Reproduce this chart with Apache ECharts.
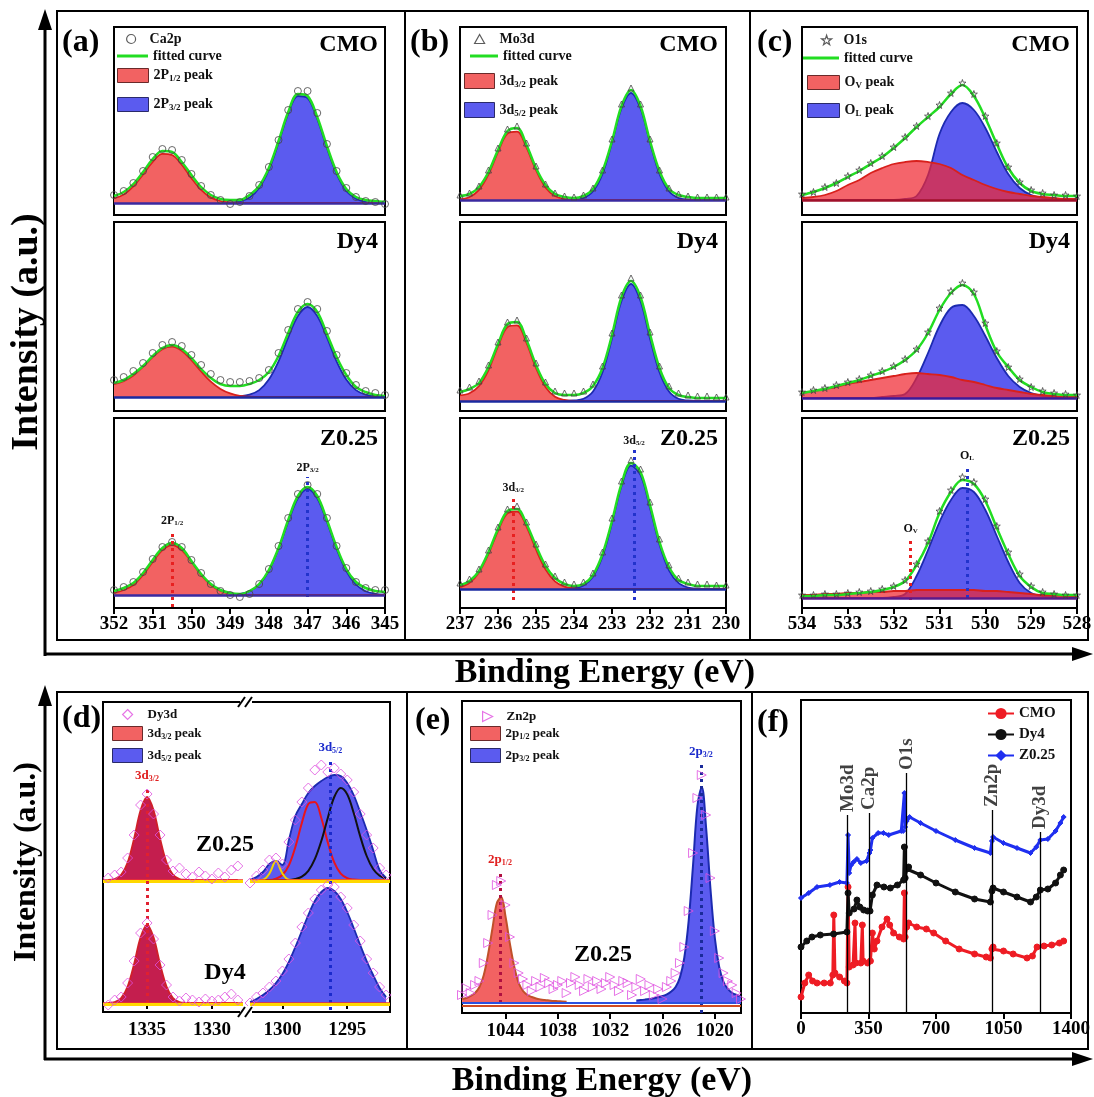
<!DOCTYPE html>
<html><head><meta charset="utf-8">
<script src="https://cdn.jsdelivr.net/npm/echarts@6/dist/echarts.min.js"></script>
<style>html,body{margin:0;padding:0;background:#fff}#c{width:1094px;height:1097px}</style>
</head><body><div id="c"></div>
<script>
const FONT='"Liberation Serif","Times New Roman","DejaVu Serif",serif';

// ---------- (a) Ca2p ----------
const aE=[352,351.75,351.5,351.25,351,350.75,350.5,350.25,350,349.75,349.5,349.25,349,348.75,348.5,348.25,348,347.75,347.5,347.25,347,346.75,346.5,346.25,346,345.75,345.5,345.25,345];
const a1Red=[4.5,8.5,16.6,28.5,41.2,49.2,48,38.3,24.9,13.1,5.6,2,0.5,0,0,0,0,0,0,0,0,0,0,0,0,0,0,0,0];
const a1Blue=[0,0,0,0,0,0,0,0,0,0,0,0,0.5,1.6,5.5,15,33,60,89,107,105,84,55,29,12,4.4,1.2,0.3,0];
const a1Fit=[7,11,19,31,44,52,51,41,28,16,8,4,3,3,8,17,35,62,91,109,107,86,57,31,14,6,3,2,1];
const a1Obs=[8,12,20,32,46,54,53,43,29,17,8,3,-1,1,7,18,36,63,93,112,112,90,59,32,15,6,2,1,-1];
const a2Red=[12.8,15.8,21.5,30.2,39.9,47.9,50.4,46.3,36.8,25.6,15.3,8.1,3.6,1,0.3,0,0,0,0,0,0,0,0,0,0,0,0,0,0];
const a2Blue=[0,0,0,0,0,0,0,0,0,0,0,0,0,0.6,2.3,6.9,17.5,35.7,59.7,81,90,81,59.7,35.7,17.5,6.9,2.3,0.6,0];
const a2Fit=[14,17,23,31,41,49,52,48,39,28,19,13,11,11,13,17,25,41,64,85,93,85,63,40,22,10,5,2,1];
const a2Obs=[17,20,26,34,44,52,55,51,42,32,23,17,15,15,16,19,27,44,67,88,95,88,66,42,24,12,6,4,2];
const a3Red=[2,5,10,20,33,45,50,45,33,20,10,4,1.3,0.3,0,0,0,0,0,0,0,0,0,0,0,0,0,0,0];
const a3Blue=[0,0,0,0,0,0,0,0,0,0,0,0,0,1.2,3.8,10.5,24,46,73,96.7,106,96.7,73,46,24,10.5,3.8,1.2,0.3];
const a3Fit=[4,7,12,22,35,47,52,47,34,21,11,5,2,1,4,11,25,47,75,99,108,99,75,48,26,13,7,4,3];
const a3Obs=[5,8,13,23,36,48,53,48,35,22,11,4,0,-2,1,11,26,49,77,101,110,101,77,49,27,13,7,5,5];

// ---------- (b) Mo3d ----------
const bE=[237,236.75,236.5,236.25,236,235.75,235.5,235.25,235,234.75,234.5,234.25,234,233.75,233.5,233.25,233,232.75,232.5,232.25,232,231.75,231.5,231.25,231,230.75,230.5,230.25,230];
const b1Red=[0.7,3,10.2,25.6,47.9,66.4,68.3,52.3,29.8,12.5,3.9,0.9,0.1,0,0,0,0,0,0,0,0,0,0,0,0,0,0,0,0];
const b1Blue=[0,0,0,0,0,0,0,0,0,0,0,0,0.4,2,8.7,26.2,57.2,91.5,107,91.5,57.2,26.2,8.7,2,0.4,0,0,0,0];
const b1Fit=[4,6,13,28,50,69,72,55,32,15,6,3,2,4,11,29,59,94,110,94,59,29,11,5,3,2,2,2,2];
const b1Obs=[5,7,14,30,52,71,74,57,34,16,7,4,3,5,12,30,61,96,112,96,61,30,12,6,4,3,3,3,3];
const b2Red=[5.7,7.8,15,31,54.5,74,75.7,58,33,14,4.3,1,0,0,0,0,0,0,0,0,0,0,0,0,0,0,0,0,0];
const b2Blue=[0,0,0,0,0,0,0,0,0,0,0,0,0.5,2.2,9.5,28.7,62.6,100,117,100,62.6,28.7,9.5,2.2,0.5,0,0,0,0];
const b2Fit=[9,12,18,34,57,77,79,61,36,17,8,6,6,8,15,33,66,104,120,104,67,33,13,6,4,3,3,3,3];
const b2Obs=[11,14,20,36,59,79,81,63,38,19,10,8,8,10,17,35,68,106,123,106,69,35,15,8,6,5,5,4,4];
const b3Red=[1.8,6.2,16.6,35,58,75.7,77.5,62.4,39.5,19.7,7.7,2.4,0.6,0,0,0,0,0,0,0,0,0,0,0,0,0,0,0,0];
const b3Blue=[0,0,0,0,0,0,0,0,0,0,0,0,0.8,3.6,12.3,32.5,65.7,102.7,123.4,114,81.1,44.4,18.7,6.1,1.5,0.3,0,0,0];
const b3Fit=[4,8,18,37,60,78,80,65,43,23,11,5,3,5,14,35,68,105,126,117,84,47,22,9,5,3,3,3,3];
const b3Obs=[6,10,20,39,62,80,83,67,45,25,13,7,5,7,16,37,71,108,129,120,87,50,24,11,7,5,5,4,4];

// ---------- (c) O1s ----------
const cE=[534,533.75,533.5,533.25,533,532.75,532.5,532.25,532,531.75,531.5,531.25,531,530.75,530.5,530.25,530,529.75,529.5,529.25,529,528.75,528.5,528.25,528];
const c1Red=[2,3,5,9,15,20,27,32,36,38,39,38,36,32,25,20,15,11,8,6,4,3,2,1,1];
const c1Blue=[0,0,0,0,0,0,0,0,0,1,4,25,66,88,97,90,72,48,26,12,5,2,1,0,0];
const c1Fit=[5,8,12,17,23,29,36,43,52,62,73,83,93,106,115,104,82,56,32,17,9,6,5,4,4];
const c1Obs=[6,8,13,17,24,30,37,44,53,63,74,84,95,107,117,106,84,57,33,18,10,7,5,5,4];
const c2Red=[5,7,9,11,14,16,18,20,22,24,25,24,23,21,18,16,13,10,8,6,4,3,2,1,1];
const c2Blue=[0,0,0,0,0,0,0,1,2,4,20,45,72,90,93,82,62,40,22,11,5,2,1,0,0];
const c2Fit=[5,7,9,12,15,18,22,26,31,38,48,65,88,105,113,104,73,46,31,18,11,6,4,3,3];
const c2Obs=[6,8,10,13,16,19,23,27,32,39,49,66,90,107,115,106,75,47,31,19,11,7,5,4,3];
const c3Red=[3,3,4,4,5,5,6,6,7,7,8,8,8,8,8,8,7,7,6,5,4,3,3,2,2];
const c3Blue=[0,0,0,0,0,0,0,0,1,4,22,48,76,98,110,106,88,62,36,15,5,2,1,0,0];
const c3Fit=[2,2,3,3,4,5,6,8,11,17,33,55,85,106,118,114,97,70,44,22,11,5,4,3,3];
const c3Obs=[3,3,4,4,5,6,7,9,12,18,34,57,87,108,121,116,99,72,46,24,12,6,4,3,3];

// ---------- (d) Dy3d (broken axis) ----------
const dLE=[1338,1337.5,1337,1336.5,1336,1335.5,1335,1334.5,1334,1333.5,1333,1332.5,1332,1331.5,1331,1330.5,1330,1329.5,1329,1328.5,1328];
const dZL=[0.2,1,5.2,17.4,41.5,69.8,83,69.8,41.5,17.4,5.2,1,0.2,0,0,0,0,0,0,0,0];
const dDL=[0.2,1,4.9,16.4,39,65.6,78,65.6,39,16.4,4.9,1,0.2,0,0,0,0,0,0,0,0];
const dZLo=[2,5,8,22,45,75,86,66,45,20,9,12,6,3,8,4,1,7,3,10,14];
const dDLo=[-2,3,6,20,42,70,80,64,38,18,6,2,5,3,1,4,2,3,6,9,3];
const dRE=[1302.5,1302,1301.5,1301,1300.5,1300,1299.5,1299,1298.5,1298,1297.5,1297,1296.5,1296,1295.5,1295,1294.5,1294,1293.5,1293,1292.5,1292];
const dZR=[0,3,8,16,19,15,40,64,76,87,94,99,103,105,104,97,85,68,50,30,10,2];
const dZRred=[0,0,0,0,1.3,5,14.6,33,57,76,78,62,37.6,17.6,6.3,1.8,0.4,0,0,0,0,0];
const dZRblk=[0,0,0,0,0,0,0,1.1,3.4,9.2,20.8,39,62,83,92,85.6,67,43.8,24,11,4.2,1.4];
const dZRyel=[0,0,0.3,6.5,19,6.5,0.3,0,0,0,0,0,0,0,0,0,0,0,0,0,0,0];
const dDR=[1,4,8,13,20,29,41,56,72,88,102,111,115,112,104,91,75,58,42,28,15,6];
const dZRo=[-3,4,10,20,22,16,38,60,78,92,110,115,108,112,106,100,88,66,45,32,12,5];
const dDRo=[0,6,10,16,22,32,44,60,76,90,104,113,118,116,106,95,78,62,44,30,16,8];

// ---------- (e) Zn2p ----------
const eRE=[1049,1048.5,1048,1047.5,1047,1046.5,1046,1045.5,1045,1044.5,1044,1043.5,1043,1042.5,1042,1041.5,1041,1040.5,1040,1039.5,1039,1038.5,1038,1037.5,1037];
const eRed=[4,5,7,10,16,28,49,75,100,106,86,59,36,20,12,8,6,4.5,3.6,3,2.5,2,1.8,1.5,1.3];
const eBE=[1029,1028.5,1028,1027.5,1027,1026.5,1026,1025.5,1025,1024.5,1024,1023.5,1023,1022.5,1022,1021.5,1021,1020.5,1020,1019.5,1019,1018.5,1018,1017.5,1017];
const eBlue=[2.6,2.9,3.4,4,4.7,5.7,7,8.7,11.4,16,25.6,45.5,82.5,138,197,216,175,114,65,36,21,14,10,8,6.4];
const eTE=[1049,1048.5,1048,1047.5,1047,1046.5,1046,1045.5,1045,1044.5,1044,1043.5,1043,1042.5,1042,1041.5,1041,1040.5,1040,1039.5,1039,1038.5,1038,1037.5,1037,1036.5,1036,1035.5,1035,1034.5,1034,1033.5,1033,1032.5,1032,1031.5,1031,1030.5,1030,1029.5,1029,1028.5,1028,1027.5,1027,1026.5,1026,1025.5,1025,1024.5,1024,1023.5,1023,1022.5,1022,1021.5,1021,1020.5,1020,1019.5,1019,1018.5,1018,1017.5,1017];
const eObs=[8,15,10,18,22,40,60,88,118,122,98,66,40,30,24,18,12,22,16,25,20,14,18,22,10,20,26,18,12,24,16,22,14,20,26,18,12,22,20,8,16,24,12,18,8,14,4,16,22,30,40,56,92,150,205,228,188,125,72,45,30,22,18,10,4];

// ---------- (f) survey ----------
const fCmoE=[0,20,40,60,83,120,152,165,170,176,200,225,238,244,250,270,280,285,310,318,322,345,360,370,380,394,420,446,460,480,510,532,536,540,548,558,600,650,688,750,820,900,960,982,990,996,1050,1100,1172,1200,1224,1260,1300,1340,1362];
const fCmo=[16,30,38,32,30,30,30,38,98,40,36,32,30,126,46,48,90,50,50,88,52,50,52,80,64,72,86,94,88,80,76,74,120,76,86,90,86,84,80,72,64,59,56,55,64,66,62,59,55,57,66,67,68,70,72];
const fDyE=[0,30,57,100,169,238,244,250,275,290,305,325,345,358,370,394,430,463,500,532,536,540,548,558,620,700,800,900,982,990,996,1050,1120,1190,1220,1241,1280,1320,1345,1362];
const fDy=[66,72,76,78,79,81,120,100,104,113,106,103,102,102,118,128,126,125,128,133,166,135,144,146,138,130,121,114,111,122,125,121,116,111,116,123,124,130,138,143];
const fZE=[0,40,83,150,200,238,244,250,260,273,290,310,340,355,360,370,400,428,455,520,530,536,540,548,563,620,700,800,900,982,990,996,1050,1120,1190,1220,1241,1280,1320,1345,1362];
const fZ=[115,120,126,128,131,130,178,140,148,151,154,150,152,160,163,175,180,180,178,182,182,220,186,192,196,190,182,173,165,160,172,176,170,165,160,166,173,174,182,190,196];
const fMarkE=[242,354,548,992,1239];
const fMarkTop=[198,200,240,203,181];
const fMarkName=['Mo3d','Ca2p','O1s','Zn2p','Dy3d'];

// ---------- tick labels ----------
const dTicksL=[1335,1330], dTicksR=[1300,1295];
const eTicks=[1044,1038,1032,1026,1020];

// ================= building =================
const pairs=(xs,ys)=>xs.map((x,i)=>[x,ys[i]]);
function richFor(color,size){return{
  t:{fontFamily:FONT,fontWeight:'bold',fontSize:size,color:color},
  g:{fontSize:size,width:10},
  s:{fontFamily:FONT,fontWeight:'bold',fontSize:Math.round(size*0.62),color:color,padding:[Math.round(size*0.5),0,0,0]}};}
const FMT={
  '2P1/2 peak':'{t|2P}{s|1/2}{t| peak}','2P3/2 peak':'{t|2P}{s|3/2}{t| peak}',
  '3d3/2 peak':'{t|3d}{s|3/2}{t| peak}','3d5/2 peak':'{t|3d}{s|5/2}{t| peak}',
  'OV peak':'{t|O}{s|V}{t| peak}','OL peak':'{t|O}{s|L}{t| peak}',
  '2p1/2 peak':'{t|2p}{s|1/2}{t| peak}','2p3/2 peak':'{t|2p}{s|3/2}{t| peak}'
};
const numFmt=v=>String(v);
const grids=[],xAxes=[],yAxes=[],series=[],legends=[],graphics=[];
function addGrid(g,x,y){
  grids.push(Object.assign({outerBoundsMode:'none',containLabel:false,show:true,borderColor:'#000',borderWidth:2,backgroundColor:'rgba(0,0,0,0)'},g));
  const gi=grids.length-1;
  xAxes.push(Object.assign({gridIndex:gi,type:'value',inverse:true,splitLine:{show:false},
    axisLine:{show:true,onZero:false,lineStyle:{color:'#000',width:2}},
    axisTick:{show:true,inside:false,length:6,lineStyle:{color:'#000',width:2}},
    axisLabel:{fontFamily:FONT,fontWeight:'bold',fontSize:19,color:'#000',margin:7,formatter:numFmt}},x));
  yAxes.push(Object.assign({gridIndex:gi,type:'value',show:false,splitLine:{show:false}},y));
  return gi;
}
function annot(x,y0,y1,color,label,labelColor,size){
  return{silent:true,symbol:['none','none'],animation:false,
    lineStyle:{color:color,type:[3,4],width:3},
    label:{show:true,position:'end',distance:3,formatter:label,rich:richFor(labelColor,size)},
    data:[[{coord:[x,y0]},{coord:[x,y1]}]]};
}
function baseLine(items){
  return{silent:true,symbol:['none','none'],animation:false,label:{show:false},
    lineStyle:{type:'solid',color:items[0].c,width:items[0].w},
    data:items.map(o=>({yAxis:o.v,lineStyle:{type:'solid',color:o.c,width:o.w}}))};
}
const RED_FILL='#f26262',RED_LINE='#d8201c',BLUE_FILL='#5b5bef',BLUE_LINE='#1c2ab0',GREEN='#22dd22';
const STAR='path://M5,0 L6.2,3.6 L10,3.6 L7,5.9 L8.1,9.5 L5,7.3 L1.9,9.5 L3,5.9 L0,3.6 L3.8,3.6 Z';
const RTRI='path://M0,0 L10,5 L0,10 Z';

function xps(p){
  const gi=addGrid({left:p.left,top:p.top,width:p.width,height:p.height},
    {show:p.showX,min:p.min,max:p.max,interval:1},{min:p.ymin,max:p.ymax});
  const blue={type:'line',name:p.blueName,xAxisIndex:gi,yAxisIndex:gi,data:pairs(p.E,p.blue),smooth:0.35,symbol:'none',
    lineStyle:{color:BLUE_LINE,width:1.8},itemStyle:{color:BLUE_FILL},areaStyle:{color:p.blueFill||BLUE_FILL,opacity:1},z:2,emphasis:{disabled:true}};
  const red={type:'line',name:p.redName,xAxisIndex:gi,yAxisIndex:gi,data:pairs(p.E,p.red),smooth:0.35,symbol:'none',
    lineStyle:{color:RED_LINE,width:1.8},itemStyle:{color:RED_FILL},areaStyle:{color:p.redFill||RED_FILL,opacity:1},z:3,emphasis:{disabled:true}};
  if(p.blueMark) blue.markLine=p.blueMark;
  if(p.redMark) red.markLine=p.redMark;
  series.push(blue,red);
  series.push({type:'line',name:'fitted curve',xAxisIndex:gi,yAxisIndex:gi,data:pairs(p.E,p.fit),smooth:0.35,symbol:'none',
    lineStyle:{color:GREEN,width:2.5},itemStyle:{color:GREEN},z:4,emphasis:{disabled:true},
    markLine:baseLine([{v:0,c:p.baseColor,w:2.5}])});
  series.push({type:'scatter',name:p.obsName,xAxisIndex:gi,yAxisIndex:gi,data:pairs(p.E,p.obs),symbol:p.sym,symbolSize:p.symSize,
    itemStyle:{color:'rgba(255,255,255,0)',borderColor:'#444',borderWidth:1},z:5,emphasis:{disabled:true}});
}
const rowTop=[27,222,418],rowH=[188,189,190];
const colA={left:114,width:271,min:345,max:352};
const colB={left:460,width:266,min:230,max:237};
const colC={left:802,width:275,min:528,max:534};
const lab11=(a,b)=>'{t|'+a+'}{s|'+b+'}';

// (a)
xps(Object.assign({},colA,{top:rowTop[0],height:rowH[0],showX:false,ymin:-12,ymax:176,E:aE,red:a1Red,blue:a1Blue,fit:a1Fit,obs:a1Obs,obsName:'Ca2p',sym:'circle',symSize:7,redName:'2P1/2 peak',blueName:'2P3/2 peak',baseColor:'#3a2aa0'}));
xps(Object.assign({},colA,{top:rowTop[1],height:rowH[1],showX:false,ymin:-14,ymax:175,E:aE,red:a2Red,blue:a2Blue,fit:a2Fit,obs:a2Obs,obsName:'Ca2p',sym:'circle',symSize:7,redName:'2P1/2 peak',blueName:'2P3/2 peak',baseColor:'#1a2aa0'}));
xps(Object.assign({},colA,{top:rowTop[2],height:rowH[2],showX:true,ymin:-13,ymax:177,E:aE,red:a3Red,blue:a3Blue,fit:a3Fit,obs:a3Obs,obsName:'Ca2p',sym:'circle',symSize:7,redName:'2P1/2 peak',blueName:'2P3/2 peak',baseColor:'#3a2aa0',
  redMark:annot(350.5,-12,65,'#e82020',lab11('2P','1/2'),'#111',12),blueMark:annot(347,-2,118,'#2233cc',lab11('2P','3/2'),'#111',12)}));
// (b)
xps(Object.assign({},colB,{top:rowTop[0],height:rowH[0],showX:false,ymin:-15,ymax:173,E:bE,red:b1Red,blue:b1Blue,fit:b1Fit,obs:b1Obs,obsName:'Mo3d',sym:'triangle',symSize:6,redName:'3d3/2 peak',blueName:'3d5/2 peak',baseColor:'#3a2aa0'}));
xps(Object.assign({},colB,{top:rowTop[1],height:rowH[1],showX:false,ymin:-10,ymax:179,E:bE,red:b2Red,blue:b2Blue,fit:b2Fit,obs:b2Obs,obsName:'Mo3d',sym:'triangle',symSize:6,redName:'3d3/2 peak',blueName:'3d5/2 peak',baseColor:'#1a2aa0'}));
xps(Object.assign({},colB,{top:rowTop[2],height:rowH[2],showX:true,ymin:-19,ymax:171,E:bE,red:b3Red,blue:b3Blue,fit:b3Fit,obs:b3Obs,obsName:'Mo3d',sym:'triangle',symSize:6,redName:'3d3/2 peak',blueName:'3d5/2 peak',baseColor:'#1a2aa0',
  redMark:annot(235.6,-11,92,'#e82020',lab11('3d','3/2'),'#111',12),blueMark:annot(232.42,-11,139,'#2233cc',lab11('3d','5/2'),'#111',12)}));
// (c)
const C_RED='rgba(240,40,50,0.72)';
xps(Object.assign({},colC,{top:rowTop[0],height:rowH[0],showX:false,ymin:-15,ymax:173,E:cE,red:c1Red,blue:c1Blue,fit:c1Fit,obs:c1Obs,obsName:'O1s',sym:STAR,symSize:7,redName:'OV peak',blueName:'OL peak',redFill:C_RED,baseColor:'#a0102a'}));
xps(Object.assign({},colC,{top:rowTop[1],height:rowH[1],showX:false,ymin:-13,ymax:176,E:cE,red:c2Red,blue:c2Blue,fit:c2Fit,obs:c2Obs,obsName:'O1s',sym:STAR,symSize:7,redName:'OV peak',blueName:'OL peak',redFill:C_RED,baseColor:'#3a1a9a'}));
xps(Object.assign({},colC,{top:rowTop[2],height:rowH[2],showX:true,ymin:-10,ymax:180,E:cE,red:c3Red,blue:c3Blue,fit:c3Fit,obs:c3Obs,obsName:'O1s',sym:STAR,symSize:7,redName:'OV peak',blueName:'OL peak',redFill:C_RED,baseColor:'#5a1a8a',
  redMark:annot(531.63,-2,60,'#e82020',lab11('O','V'),'#111',12),blueMark:annot(530.4,0,133,'#2233cc',lab11('O','L'),'#111',12)}));

// (d) four overlapping grids
const dLabel={fontFamily:FONT,fontWeight:'bold',fontSize:19,color:'#000',margin:9,formatter:numFmt};
function dGrid(left,min,max,ticks,showX,ymin,ymax){
  return addGrid({left:left,top:702,width:140,height:310,show:false},
    {show:showX,min:min,max:max,axisLine:{show:false},
      axisTick:{show:true,inside:false,length:6,lineStyle:{color:'#000',width:2},customValues:ticks},
      axisLabel:Object.assign({},dLabel,{customValues:ticks})},{min:ymin,max:ymax});
}
const gZL=dGrid(103,1327.6,1338.4,dTicksL,false,-132,178);
const gZR=dGrid(250,1291.7,1302.5,dTicksR,false,-132,178);
const gDL=dGrid(103,1327.6,1338.4,dTicksL,true,-9,301);
const gDR=dGrid(250,1291.7,1302.5,dTicksR,true,-9,301);
const CRIMSON='#c41e4e';
const YEL=[{v:0,c:'#f03030',w:1.5},{v:-1.5,c:'#ffd800',w:3}];
function dArea(gi,E,v,name,fill,line,mk){
  const s={type:'line',name:name,xAxisIndex:gi,yAxisIndex:gi,data:pairs(E,v),smooth:0.35,symbol:'none',
    lineStyle:{color:line,width:1.8},itemStyle:{color:fill},areaStyle:{color:fill,opacity:1},z:2,emphasis:{disabled:true}};
  if(mk) s.markLine=mk; series.push(s);
}
function dLine(gi,E,v,color){
  series.push({type:'line',name:'_sub',xAxisIndex:gi,yAxisIndex:gi,data:pairs(E,v),smooth:0.35,symbol:'none',
    lineStyle:{color:color,width:2},itemStyle:{color:color},z:4,emphasis:{disabled:true}});
}
function dDots(gi,E,v){
  series.push({type:'scatter',name:'Dy3d',xAxisIndex:gi,yAxisIndex:gi,data:pairs(E,v),symbol:'diamond',symbolSize:10,
    itemStyle:{color:'rgba(255,255,255,0)',borderColor:'#e050e0',borderWidth:1},z:5,emphasis:{disabled:true},
    markLine:baseLine(YEL)});
}
dArea(gZL,dLE,dZL,'3d3/2 peak',CRIMSON,'#d0202a');
dDots(gZL,dLE,dZLo);
dArea(gZR,dRE,dZR,'3d5/2 peak',BLUE_FILL,BLUE_LINE);
dLine(gZR,dRE,dZRred,'#e8141c');
dLine(gZR,dRE,dZRblk,'#111111');
dLine(gZR,dRE,dZRyel,'#f2d400');
dDots(gZR,dRE,dZRo);
dArea(gDL,dLE,dDL,'3d3/2 peak',CRIMSON,'#d0202a',annot(1335,0,217,'#e02030',lab11('3d','3/2'),'#e02020',13));
dDots(gDL,dLE,dDLo);
dArea(gDR,dRE,dDR,'3d5/2 peak',BLUE_FILL,BLUE_LINE,annot(1296.3,-7,245,'#1a2acc',lab11('3d','5/2'),'#1a2acc',13));
dDots(gDR,dRE,dDRo);

// (e)
const gE=addGrid({left:462,top:701,width:279,height:312},
  {min:1017,max:1049,axisTick:{show:true,inside:false,length:6,lineStyle:{color:'#000',width:2},customValues:eTicks},
   axisLabel:Object.assign({},dLabel,{customValues:eTicks})},{min:-10,max:302});
series.push({type:'line',name:'2p3/2 peak',xAxisIndex:gE,yAxisIndex:gE,data:pairs(eBE,eBlue),smooth:0.35,symbol:'none',
  lineStyle:{color:BLUE_LINE,width:2},itemStyle:{color:BLUE_FILL},areaStyle:{color:BLUE_FILL,opacity:1},z:2,emphasis:{disabled:true},
  markLine:annot(1021.6,-10,241,'#1a2a9a',lab11('2p','3/2'),'#1a2acc',13)});
series.push({type:'line',name:'2p1/2 peak',xAxisIndex:gE,yAxisIndex:gE,data:pairs(eRE,eRed),smooth:0.35,symbol:'none',
  lineStyle:{color:'#c0502a',width:2},itemStyle:{color:RED_FILL},areaStyle:{color:RED_FILL,opacity:1},z:3,emphasis:{disabled:true},
  markLine:annot(1044.65,0,133,'#b01040',lab11('2p','1/2'),'#e02020',13)});
series.push({type:'scatter',name:'Zn2p',xAxisIndex:gE,yAxisIndex:gE,data:pairs(eTE,eObs),symbol:RTRI,symbolSize:9,
  itemStyle:{color:'rgba(255,255,255,0)',borderColor:'#e050e0',borderWidth:1},z:5,emphasis:{disabled:true},
  markLine:baseLine([{v:0,c:'#2a50e0',w:2},{v:-2.5,c:'#d04a20',w:2}])});

// (f)
const gF=addGrid({left:801,top:700,width:270,height:313},
  {inverse:false,min:0,max:1400,interval:350},{min:0,max:313});
function fLine(name,E,v,color,sym,size){
  series.push({type:'line',name:name,xAxisIndex:gF,yAxisIndex:gF,data:pairs(E,v),symbol:sym,symbolSize:size,showSymbol:true,
    lineStyle:{color:color,width:3},itemStyle:{color:color,borderColor:color},z:3,emphasis:{disabled:true}});
}
fLine('CMO',fCmoE,fCmo,'#ee1c24','circle',6);
fLine('Dy4',fDyE,fDy,'#111111','circle',6);
fLine('Z0.25',fZE,fZ,'#1f2ff0','diamond',5);
series.push({type:'scatter',name:'_marks',xAxisIndex:gF,yAxisIndex:gF,data:pairs(fMarkE,fMarkTop),symbolSize:0,z:6,
  label:{show:true,position:'top',distance:3,rotate:90,align:'left',verticalAlign:'middle',
    formatter:p=>fMarkName[p.dataIndex],fontFamily:FONT,fontWeight:'bold',fontSize:19,color:'#111'},
  markLine:{silent:true,symbol:['none','none'],animation:false,label:{show:false},lineStyle:{color:'#000',type:'solid',width:1.3},
    data:fMarkE.map((e,i)=>[{coord:[e,0]},{coord:[e,fMarkTop[i]]}])}});

// ---------- legends ----------
const OPEN=c=>({color:'rgba(0,0,0,0)',borderColor:c,borderWidth:1.2});
function L(name,left,top,w,h,icon,itemStyle,size,gap){
  const d={name:name}; if(icon) d.icon=icon; if(itemStyle) d.itemStyle=itemStyle;
  const rich=richFor('#111',size||14); if(gap) rich.g.width=gap;
  return{show:true,left:left,top:top,itemWidth:w,itemHeight:h,itemGap:0,padding:0,selectedMode:false,data:[d],
    formatter:n=>(gap?'{g| }':'')+(FMT[n]||('{t|'+n+'}')),textStyle:{rich:rich}};
}
const RBOX={color:RED_FILL,borderColor:'#6a2a2a',borderWidth:1}, BBOX={color:BLUE_FILL,borderColor:'#2a2a6a',borderWidth:1};
legends.push(
  L('Ca2p',126,32,9,9,'circle',OPEN('#333'),14,9),
  L('fitted curve',117,49,31,3,'rect',{color:GREEN}),
  L('2P1/2 peak',117,68,31,14,'rect',RBOX),
  L('2P3/2 peak',117,97,31,14,'rect',BBOX),
  L('Mo3d',474,32,10,9,'triangle',OPEN('#333'),14,10),
  L('fitted curve',470,49,28,3,'rect',{color:GREEN}),
  L('3d3/2 peak',464,73,30,15,'rect',RBOX),
  L('3d5/2 peak',464,102,30,15,'rect',BBOX),
  L('O1s',821,33,10,10,STAR,OPEN('#333'),14,7),
  L('fitted curve',803,51,36,3,'rect',{color:GREEN}),
  L('OV peak',807,75,32,14,'rect',RBOX),
  L('OL peak',807,103,32,14,'rect',BBOX),
  L('Dy3d',122,708,10,10,'diamond',OPEN('#e050e0'),13,10),
  L('3d3/2 peak',112,726,30,14,'rect',RBOX,13),
  L('3d5/2 peak',112,748,30,14,'rect',BBOX,13),
  L('Zn2p',482,710,10,10,RTRI,OPEN('#e050e0'),13,9),
  L('2p1/2 peak',470,726,30,14,'rect',RBOX,13),
  L('2p3/2 peak',470,748,30,14,'rect',BBOX,13),
  {show:true,orient:'vertical',left:987,top:706,itemWidth:26,itemHeight:14,itemGap:6,padding:0,selectedMode:false,
   data:['CMO','Dy4','Z0.25'],textStyle:{fontFamily:FONT,fontWeight:'bold',fontSize:15,color:'#111'}}
);

// ---------- graphics: frames, arrows, titles ----------
const K={stroke:'#000',lineWidth:2};
function T(x,y,text,size,align,extra){
  graphics.push(Object.assign({type:'text',x:x,y:y,silent:true,z:100,
    style:{text:text,font:'bold '+size+'px '+FONT,fill:'#000',textAlign:align||'left',textVerticalAlign:'middle'}},extra||{}));
}
graphics.push(
  {type:'rect',shape:{x:57,y:11,width:1031,height:629},style:{fill:'none',stroke:'#000',lineWidth:2},silent:true},
  {type:'line',shape:{x1:405,y1:11,x2:405,y2:640},style:K,silent:true},
  {type:'line',shape:{x1:750,y1:11,x2:750,y2:640},style:K,silent:true},
  {type:'rect',shape:{x:57,y:692,width:1031,height:357},style:{fill:'none',stroke:'#000',lineWidth:2},silent:true},
  {type:'line',shape:{x1:407,y1:692,x2:407,y2:1049},style:K,silent:true},
  {type:'line',shape:{x1:752,y1:692,x2:752,y2:1049},style:K,silent:true},
  {type:'rect',shape:{x:103,y:702,width:287,height:310},style:{fill:'none',stroke:'#000',lineWidth:2},silent:true},
  {type:'rect',shape:{x:240,y:696,width:12,height:12},style:{fill:'#fff'},silent:true,z:50},
  {type:'rect',shape:{x:240,y:1006,width:12,height:12},style:{fill:'#fff'},silent:true,z:50},
  {type:'line',shape:{x1:238,y1:707,x2:245,y2:697},style:K,silent:true,z:51},
  {type:'line',shape:{x1:245,y1:707,x2:252,y2:697},style:K,silent:true,z:51},
  {type:'line',shape:{x1:238,y1:1017,x2:245,y2:1007},style:K,silent:true,z:51},
  {type:'line',shape:{x1:245,y1:1017,x2:252,y2:1007},style:K,silent:true,z:51},
  // arrows
  {type:'line',shape:{x1:45,y1:656,x2:45,y2:26},style:{stroke:'#000',lineWidth:3},silent:true},
  {type:'polygon',shape:{points:[[45,9],[38,30],[52,30]]},style:{fill:'#000'},silent:true},
  {type:'line',shape:{x1:44,y1:654,x2:1076,y2:654},style:{stroke:'#000',lineWidth:3},silent:true},
  {type:'polygon',shape:{points:[[1093,654],[1072,647],[1072,661]]},style:{fill:'#000'},silent:true},
  {type:'line',shape:{x1:45,y1:1060,x2:45,y2:702},style:{stroke:'#000',lineWidth:3},silent:true},
  {type:'polygon',shape:{points:[[45,685],[38,706],[52,706]]},style:{fill:'#000'},silent:true},
  {type:'line',shape:{x1:44,y1:1059,x2:1076,y2:1059},style:{stroke:'#000',lineWidth:3},silent:true},
  {type:'polygon',shape:{points:[[1093,1059],[1072,1052],[1072,1066]]},style:{fill:'#000'},silent:true}
);
T(62,43,'(a)',32); T(410,43,'(b)',32); T(757,43,'(c)',32);
T(62,719,'(d)',32); T(415,721,'(e)',32); T(757,723,'(f)',32);
const sampleX=[378,718,1070];
sampleX.forEach(x=>{ T(x,45,'CMO',24,'right'); T(x,242,'Dy4',24,'right'); T(x,439,'Z0.25',24,'right'); });
T(225,845,'Z0.25',24,'center'); T(225,973,'Dy4',24,'center'); T(603,955,'Z0.25',24,'center');
T(605,673,'Binding Energy (eV)',34,'center'); T(602,1081,'Binding Energy (eV)',34,'center');
T(27,332,'Intensity (a.u.)',38,'center',{rotation:Math.PI/2});
T(27,862,'Intensity (a.u.)',32,'center',{rotation:Math.PI/2});

const chart=echarts.init(document.getElementById('c'),null,{renderer:'canvas'});
chart.setOption({animation:false,backgroundColor:'#fff',grid:grids,xAxis:xAxes,yAxis:yAxes,series:series,legend:legends,graphic:graphics});
</script></body></html>
